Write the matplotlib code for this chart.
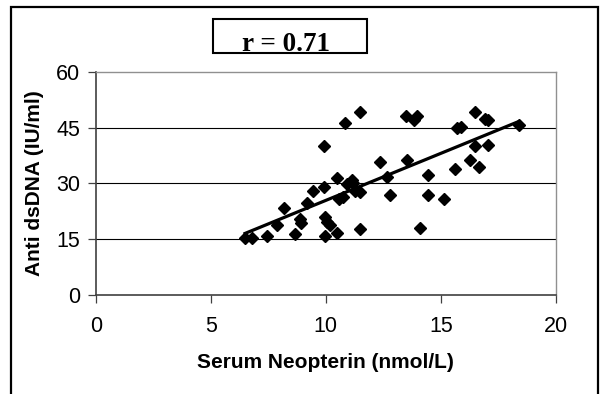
import numpy as np
import matplotlib.pyplot as plt
from matplotlib.patches import Rectangle

plt.rcParams['font.family'] = ['Liberation Sans', 'DejaVu Sans']

# Serum neopterin (nmol/L) vs anti dsDNA (IU/ml)
neopterin = [6.49, 6.80, 7.45, 7.86, 8.17, 8.66, 8.88, 8.90, 9.18, 9.46,
             9.93, 9.93, 9.95, 9.95, 10.05, 10.18, 10.47, 10.48, 10.57, 10.73,
             10.82, 10.90, 11.15, 11.18, 11.25, 11.47, 11.47, 11.50, 12.34, 12.67,
             12.80, 13.50, 13.52, 13.85, 13.95, 14.08, 14.45, 14.45, 15.14, 15.62,
             15.70, 15.85, 16.25, 16.48, 16.50, 16.66, 16.93, 17.06, 17.05, 18.38]
anti_dsdna = [15.2, 15.3, 15.9, 18.8, 23.4, 16.4, 20.5, 19.3, 24.6, 27.9,
              40.1, 28.9, 21.0, 15.9, 19.7, 18.8, 31.4, 16.5, 25.8, 26.4,
              46.2, 29.8, 30.8, 30.0, 27.9, 27.7, 17.8, 49.2, 35.8, 31.8,
              26.8, 48.1, 36.4, 47.0, 48.2, 17.9, 32.3, 26.8, 25.9, 33.8,
              44.8, 45.2, 36.3, 40.1, 49.1, 34.3, 47.3, 47.1, 40.2, 45.8]
x_ticks = [0, 5, 10, 15, 20]
y_ticks = [0, 15, 30, 45, 60]
r_label = "r = 0.71"

x = np.array(neopterin)
y = np.array(anti_dsdna)

fig = plt.figure(figsize=(6, 3.94), dpi=100)
ax = fig.add_axes([0.1595, 0.252, 0.7672, 0.5653])

# horizontal gridlines like the Excel chart
for v in y_ticks[1:-1]:
    ax.axhline(v, color='black', lw=0.8, zorder=1)

ax.plot(x, y, linestyle='none', marker='D', markersize=6.5,
        color='black', zorder=3)

# linear trend line over the data range
slope, icpt = np.polyfit(x, y, 1)
xs = np.array([x.min(), x.max()])
ax.plot(xs, slope * xs + icpt, color='black', lw=2.3, zorder=4)

ax.set_xlim(0, 20)
ax.set_ylim(0, 60)
ax.set_xticks(x_ticks)
ax.set_yticks(y_ticks)
ax.tick_params(labelsize=15.5, length=6, width=0.9, color='#404040', pad=5)
ax.tick_params(axis='x', pad=9)
for sp in ['top', 'right']:
    ax.spines[sp].set_color('#909090')
    ax.spines[sp].set_linewidth(1.0)
for sp in ['left', 'bottom']:
    ax.spines[sp].set_color('#404040')
    ax.spines[sp].set_linewidth(1.2)

ax.set_xlabel('Serum Neopterin (nmol/L)', fontsize=15, fontweight='bold',
              labelpad=12)
ax.set_ylabel('Anti dsDNA (IU/ml)', fontsize=15, fontweight='bold',
              labelpad=9)

# r value in a box above the plot
fig.patches.append(Rectangle((0.3545, 0.8647), 0.2567, 0.0863,
                             transform=fig.transFigure, fill=False,
                             edgecolor='black', lw=1.5))
fig.text(0.477, 0.871, r_label, family='Liberation Serif', fontweight='bold',
         fontsize=19.5, ha='center', va='baseline')

# outer frame
fig.patches.append(Rectangle((0.018, -0.05), 0.979, 1.031,
                             transform=fig.transFigure, fill=False,
                             edgecolor='black', lw=1.6))

fig.savefig('out.png', dpi=100)
